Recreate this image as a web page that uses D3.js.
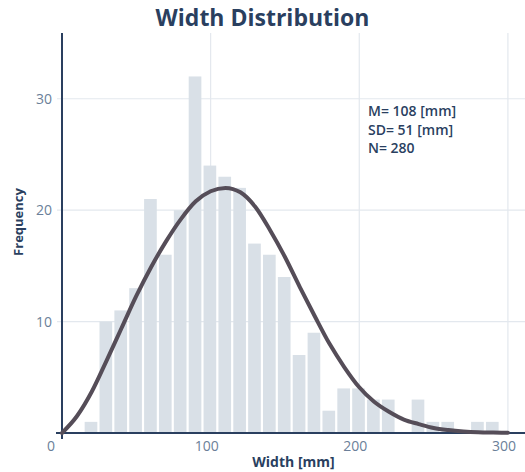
<!DOCTYPE html>
<html>
<head>
<meta charset="utf-8">
<script src="https://cdn.jsdelivr.net/npm/d3@7"></script>
<style>
  body { margin: 0; background: #fff; }
  svg { font-family: "Open Sans", sans-serif; display: block; }
</style>
</head>
<body>
<div id="chart"></div>
<script>
// histogram bins (centre of each 10 mm bin) and their counts
const binCenters = [19.5, 29.5, 39.5, 49.5, 59.5, 69.5, 79.5, 89.5, 99.5, 109.5,
                    119.5, 129.5, 139.5, 149.5, 159.5, 169.5, 179.5, 189.5, 199.5, 209.5,
                    219.5, 229.5, 239.5, 249.5, 259.5, 269.5, 279.5, 289.5];
const counts = [1, 10, 11, 13, 21, 16, 20, 32, 24, 23,
                22, 17, 16, 14, 7, 9, 2, 4, 4, 3,
                3, 0, 3, 1, 1, 0, 1, 1];

// fitted curve
const curveX = [0, 10, 20, 30, 40, 50, 60, 70, 80, 90, 100, 110, 120, 130, 140, 150,
                160, 170, 180, 190, 200, 210, 220, 230, 240, 250, 260, 270, 280, 290, 300];
const curveY = [0, 1.5, 3.7, 6.5, 9.4, 12.3, 14.9, 17.2, 19.2, 20.8, 21.7, 22.0, 21.6, 20.3, 18.2, 15.8,
                13.1, 10.5, 8.0, 5.9, 4.1, 2.8, 1.9, 1.2, 0.8, 0.45, 0.26, 0.14, 0.07, 0.04, 0.02];

const xTicks = [0, 100, 200, 300];
const yTicks = [10, 20, 30];
const binWidth = 10;
const statsLines = ["M= 108 [mm]", "SD= 51 [mm]", "N= 280"];

const width = 525, height = 472;
const margin = {top: 33, right: 0, bottom: 39, left: 62};

const svg = d3.select("#chart").append("svg")
    .attr("width", width)
    .attr("height", height);

let xScale = d3.scaleLinear()
    .domain([0, 311.5])
    .range([margin.left, width - margin.right]);

let yScale = d3.scaleLinear()
    .domain([0, 35.9])
    .range([height - margin.bottom, margin.top]);

const gridColor = "#e3e8ee";
const axisColor = "#2a3f5f";
const tickColor = "#6b7f99";

// vertical grid lines
svg.append("g").selectAll("line")
    .data(xTicks.filter(d => d > 0))
    .enter().append("line")
    .attr("x1", d => xScale(d)).attr("x2", d => xScale(d))
    .attr("y1", margin.top).attr("y2", yScale(0))
    .attr("stroke", gridColor).attr("stroke-width", 1.2);

// horizontal grid lines (they run a bit past the axis as ticks)
svg.append("g").selectAll("line")
    .data(yTicks)
    .enter().append("line")
    .attr("x1", margin.left - 5).attr("x2", width)
    .attr("y1", d => yScale(d)).attr("y2", d => yScale(d))
    .attr("stroke", gridColor).attr("stroke-width", 1.2);

// histogram bars
svg.append("g").selectAll("rect")
    .data(binCenters.map((c, i) => ({c: c, n: counts[i]})).filter(d => d.n > 0))
    .enter().append("rect")
    .attr("x", d => xScale(d.c - binWidth / 2) + 1.1)
    .attr("width", d => xScale(d.c + binWidth / 2) - xScale(d.c - binWidth / 2) - 2.2)
    .attr("y", d => yScale(d.n))
    .attr("height", d => yScale(0) - yScale(d.n))
    .attr("fill", "#d9e0e7");

// axis lines
svg.append("line")
    .attr("x1", margin.left - 6).attr("x2", width)
    .attr("y1", yScale(0)).attr("y2", yScale(0))
    .attr("stroke", axisColor).attr("stroke-width", 2);
svg.append("line")
    .attr("x1", margin.left).attr("x2", margin.left)
    .attr("y1", margin.top).attr("y2", yScale(0) + 6)
    .attr("stroke", axisColor).attr("stroke-width", 2);

// fitted curve
let line = d3.line()
    .x((d, i) => xScale(curveX[i]))
    .y(d => yScale(d))
    .curve(d3.curveMonotoneX);

svg.append("path")
    .datum(curveY)
    .attr("d", line)
    .attr("fill", "none")
    .attr("stroke", "#554d58")
    .attr("stroke-width", 4)
    .attr("stroke-linecap", "round");

// tick labels
svg.append("g").selectAll("text")
    .data(xTicks)
    .enter().append("text")
    .attr("x", d => xScale(d) - (d == 0 ? 11 : 4))
    .attr("y", yScale(0) + 18)
    .attr("text-anchor", "middle")
    .attr("font-size", 14)
    .attr("fill", tickColor)
    .text(d => d);

svg.append("g").selectAll("text")
    .data(yTicks)
    .enter().append("text")
    .attr("x", margin.left - 10)
    .attr("y", d => yScale(d) + 5)
    .attr("text-anchor", "end")
    .attr("font-size", 14)
    .attr("fill", tickColor)
    .text(d => d);

// titles
svg.append("text")
    .attr("x", width / 2)
    .attr("y", 26)
    .attr("text-anchor", "middle")
    .attr("font-size", 23)
    .attr("font-weight", "bold")
    .attr("fill", axisColor)
    .text("Width Distribution");

svg.append("text")
    .attr("x", (margin.left + width) / 2)
    .attr("y", 467)
    .attr("text-anchor", "middle")
    .attr("font-size", 14)
    .attr("font-weight", "bold")
    .attr("fill", axisColor)
    .text("Width [mm]");

svg.append("text")
    .attr("transform", "translate(23,222) rotate(-90)")
    .attr("text-anchor", "middle")
    .attr("font-size", 13)
    .attr("font-weight", "bold")
    .attr("fill", axisColor)
    .text("Frequency");

// stats annotation
svg.append("g").selectAll("text")
    .data(statsLines)
    .enter().append("text")
    .attr("x", 368)
    .attr("y", (d, i) => 116 + i * 18.7)
    .attr("font-size", 14)
    .attr("font-weight", 600)
    .attr("fill", axisColor)
    .text(d => d);
</script>
</body>
</html>
